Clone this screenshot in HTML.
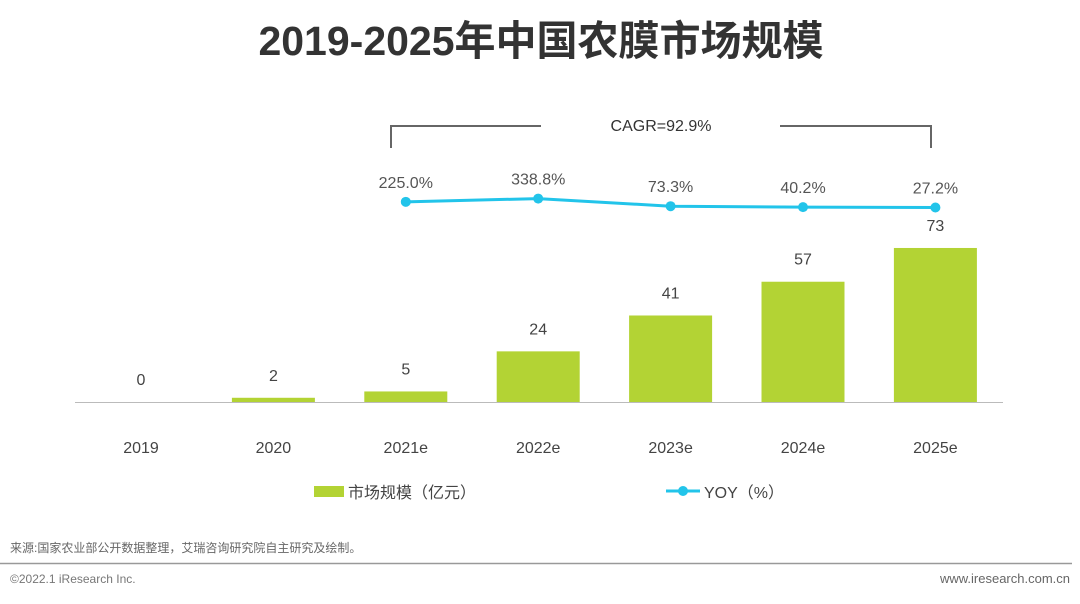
<!DOCTYPE html>
<html><head><meta charset="utf-8"><style>
body{margin:0;background:#fff;width:1080px;height:599px;overflow:hidden;font-family:"Liberation Sans","Noto Sans CJK SC",sans-serif}
svg text{font-family:"Liberation Sans","Noto Sans CJK SC",sans-serif}
</style></head><body>
<svg width="1080" height="599">
<text x="541" y="55" text-anchor="middle" font-size="41" font-weight="bold" fill="#333">2019-2025年中国农膜市场规模</text>
<g stroke="#666" stroke-width="2" fill="none">
<path d="M391,148 V126 H541"/><path d="M780,126 H931 V148"/>
</g>
<text x="661" y="131" text-anchor="middle" font-size="16" fill="#333">CAGR=92.9%</text>
<line x1="75" y1="402.5" x2="1003" y2="402.5" stroke="#bbb" stroke-width="1"/>
<g id="bars"></g><g id="line"></g>
<g>
<rect x="314" y="486" width="30" height="11" fill="#b3d334"/>
<text x="348" y="498" font-size="16" fill="#444">市场规模（亿元）</text>
<line x1="666" y1="491" x2="700" y2="491" stroke="#22c4ea" stroke-width="3"/>
<circle cx="683" cy="491" r="5" fill="#22c4ea"/>
<text x="704" y="498" font-size="16" fill="#444">YOY（%）</text>
</g>
<text x="10" y="552" font-size="12" fill="#666">来源:国家农业部公开数据整理，艾瑞咨询研究院自主研究及绘制。</text>
<line x1="0" y1="563.5" x2="1072" y2="563.5" stroke="#999" stroke-width="1.5"/>
<text x="10" y="583" font-size="12" fill="#777">©2022.1 iResearch Inc.</text>
<text x="1070" y="583" text-anchor="end" font-size="13" fill="#666">www.iresearch.com.cn</text>
</svg>
<script>
const categories=["2019","2020","2021e","2022e","2023e","2024e","2025e"];
const marketSize=[0,2,5,24,41,57,73];
const yoyCats=["2021e","2022e","2023e","2024e","2025e"];
const yoy=[225.0,338.8,73.3,40.2,27.2];
const yoyLabels=["225.0%","338.8%","73.3%","40.2%","27.2%"];
const NS="http://www.w3.org/2000/svg";
const x=i=>141+i*132.4;
const yB=v=>402-v*2.11;
const yL=v=>208.3-v*0.0287;
function mk(t,a,p){const e=document.createElementNS(NS,t);for(const k in a)e.setAttribute(k,a[k]);p.appendChild(e);return e;}
const gb=document.getElementById('bars');
categories.forEach((c,i)=>{
 const r=mk('rect',{x:x(i)-41.5,y:yB(marketSize[i]),width:83,height:402-yB(marketSize[i]),fill:'#b3d334'},gb);
 
 
 const t=mk('text',{x:x(i),y:yB(marketSize[i])-17,'text-anchor':'middle','font-size':16,fill:'#444'},gb);t.textContent=marketSize[i];
 
 
 const l=mk('text',{x:x(i),y:453,'text-anchor':'middle','font-size':16,fill:'#444'},gb);l.textContent=c;
 
 
});
const gl=document.getElementById('line');
const pts=yoy.map((v,j)=>{const i=categories.indexOf(yoyCats[j]);return [x(i),yL(v)];});
const pl=mk('polyline',{points:pts.map(p=>p.join(',')).join(' '),fill:'none',stroke:'#22c4ea','stroke-width':3},gl);


pts.forEach((p,j)=>{
 const c=mk('circle',{cx:p[0],cy:p[1],r:5,fill:'#22c4ea'},gl);
 
 
 const t=mk('text',{x:p[0],y:p[1]-14,'text-anchor':'middle','font-size':16,fill:'#555'},gl);t.textContent=yoyLabels[j];
 
 
});
</script>
</body></html>
